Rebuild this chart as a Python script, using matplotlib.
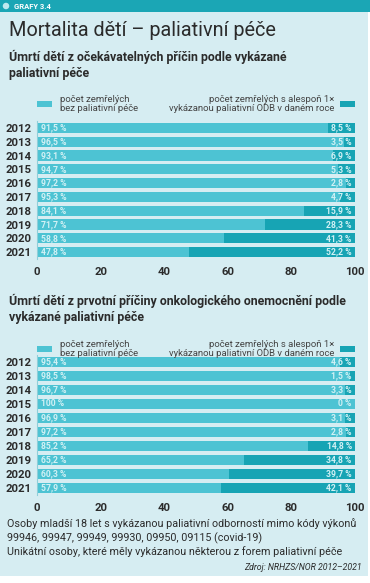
import matplotlib
matplotlib.use("Agg")
import matplotlib.pyplot as plt
from matplotlib.patches import Rectangle, Ellipse

# data
years = ["2012", "2013", "2014", "2015", "2016", "2017", "2018", "2019", "2020", "2021"]
expected_none = [91.5, 96.5, 93.1, 94.7, 97.2, 95.3, 84.1, 71.7, 58.8, 47.8]
expected_pal = [8.5, 3.5, 6.9, 5.3, 2.8, 4.7, 15.9, 28.3, 41.3, 52.2]
onco_none = [95.4, 98.5, 96.7, 100, 96.9, 97.2, 85.2, 65.2, 60.3, 57.9]
onco_pal = [4.6, 1.5, 3.3, 0, 3.1, 2.8, 14.8, 34.8, 39.7, 42.1]
xticks = [0, 20, 40, 60, 80, 100]

BG = "#d6edf2"
HEAD = "#1ba6b5"
LIGHT = "#4dc3d3"
DARK = "#17a4b4"
TXT = "#2b2b2b"
LBL = "#d2f1f5"

plt.rcParams["font.family"] = ["Roboto", "DejaVu Sans"]

W, H = 370, 583
fig = plt.figure(figsize=(W / 100, H / 100), dpi=100)
fig.patch.set_facecolor("white")


def px(x, y):
    return x / W, 1 - y / H


def text_at(x, y, s, **kw):
    fig.text(*px(x, y), s, **kw)


# panel + header
fig.patches.append(Rectangle(px(0, 576), 368 / W, 564 / H, transform=fig.transFigure,
                             facecolor=BG, edgecolor="none", zorder=-5))
fig.patches.append(Rectangle(px(0, 12), 1, 12 / H, transform=fig.transFigure,
                             facecolor=HEAD, edgecolor="none", zorder=-4))
fig.patches.append(Ellipse(px(6, 6), 6.5 / W, 6.5 / H, transform=fig.transFigure,
                           facecolor="#bfe9ef", edgecolor="none", zorder=-3))
text_at(14, 6.5, "GRAFY 3.4", color="white", fontsize=5.5, fontweight="bold", va="center")

text_at(9, 31, "Mortalita dětí – paliativní péče", color=TXT, fontsize=14.3, va="center")


def draw_block(y_sub, sub_text, y_leg, ax_top, ax_bot, none, pal):
    text_at(9, y_sub, sub_text, color=TXT, fontsize=8.9, fontweight="bold",
            va="top", linespacing=1.3)
    # legend
    fig.patches.append(Rectangle(px(37, y_leg + 3), 15 / W, 6 / H, transform=fig.transFigure,
                                 facecolor=LIGHT, edgecolor="none", zorder=-2))
    fig.patches.append(Rectangle(px(340, y_leg + 3), 15 / W, 6 / H, transform=fig.transFigure,
                                 facecolor=DARK, edgecolor="none", zorder=-2))
    text_at(60, y_leg, "počet zemřelých\nbez paliativní péče", color="#444444",
            fontsize=6.8, va="center", linespacing=1.0)
    text_at(334, y_leg, "počet zemřelých s alespoň 1×\nvykázanou paliativní ODB v daném roce",
            color="#444444", fontsize=6.8, va="center", ha="right", linespacing=1.0)

    l, b = px(37, ax_bot)
    ax = fig.add_axes([l, b, 318 / W, (ax_bot - ax_top) / H])
    ax.set_facecolor("none")
    ypos = list(range(len(years)))
    ax.barh(ypos, none, height=0.74, color=LIGHT, edgecolor="none")
    ax.barh(ypos, pal, left=none, height=0.74, color=DARK, edgecolor="none")
    for y, a, c in zip(ypos, none, pal):
        sa = "100 %" if a == 100 else f"{a:.1f} %".replace(".", ",")
        sc = "0 %" if c == 0 else f"{c:.1f} %".replace(".", ",")
        ax.text(1.3, y, sa, color=LBL, fontsize=6.2, fontweight="bold", va="center")
        ax.text(99, y, sc, color=LBL, fontsize=6.2, fontweight="bold", va="center", ha="right")
    ax.set_xlim(0, 100)
    ax.set_ylim(len(years) - 0.5, -0.5)
    ax.set_yticks(ypos, years)
    ax.set_xticks(xticks, [str(t) for t in xticks])
    ax.tick_params(length=0, colors=TXT, labelsize=8.2)
    ax.tick_params(axis="y", pad=4)
    ax.tick_params(axis="x", pad=6)
    for lab in ax.get_xticklabels() + ax.get_yticklabels():
        lab.set_fontweight("bold")
    for s in ["top", "right", "bottom"]:
        ax.spines[s].set_visible(False)
    ax.spines["left"].set_color("#8fcfd9")
    ax.spines["left"].set_linewidth(0.8)
    return ax


draw_block(50, "Úmrtí dětí z očekávatelných příčin podle vykázané\npaliativní péče",
           104, 121, 259, expected_none, expected_pal)
draw_block(294, "Úmrtí dětí z prvotní příčiny onkologického onemocnění podle\nvykázané paliativní péče",
           349, 355, 495, onco_none, onco_pal)

text_at(7, 524, "Osoby mladší 18 let s vykázanou paliativní odborností mimo kódy výkonů",
        color=TXT, fontsize=7.75, va="center")
text_at(7, 538, "99946, 99947, 99949, 99930, 09950, 09115 (covid-19)",
        color=TXT, fontsize=7.75, va="center")
text_at(7, 551.5, "Unikátní osoby, které měly vykázanou některou z forem paliativní péče",
        color=TXT, fontsize=7.75, va="center")
text_at(362, 567, "Zdroj: NRHZS/NOR 2012–2021", color=TXT, fontsize=6.3,
        style="italic", va="center", ha="right")

fig.savefig("out.png", dpi=100, facecolor=fig.get_facecolor())
